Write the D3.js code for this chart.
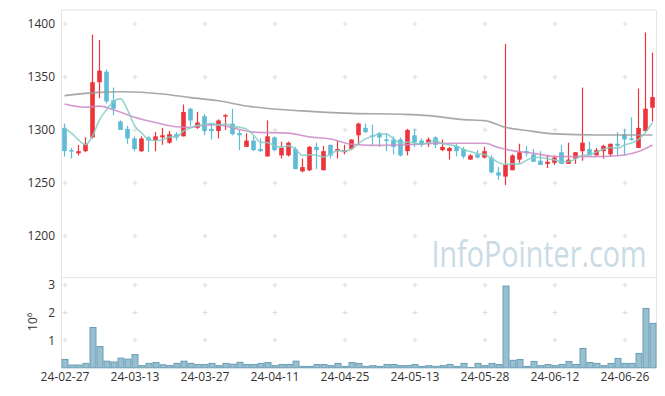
<!DOCTYPE html>
<html>
<head>
<meta charset="utf-8">
<script src="https://cdn.jsdelivr.net/npm/d3@7"></script>
<style>
body { margin: 0; background: #fff; }
svg text { font-family: "Open Sans", sans-serif; fill: #333; }
</style>
</head>
<body>
<div id="chart" style="width:665px;height:396px"></div>
<script>
const dates = [
    "24-02-27","24-02-28","24-02-29","24-03-04","24-03-05","24-03-06","24-03-07","24-03-08","24-03-11","24-03-12",
    "24-03-13","24-03-14","24-03-15","24-03-18","24-03-19","24-03-20","24-03-21","24-03-22","24-03-25","24-03-26",
    "24-03-27","24-03-28","24-03-29","24-04-01","24-04-02","24-04-03","24-04-04","24-04-05","24-04-08","24-04-09",
    "24-04-11","24-04-12","24-04-15","24-04-16","24-04-17","24-04-18","24-04-19","24-04-22","24-04-23","24-04-24",
    "24-04-25","24-04-26","24-04-29","24-04-30","24-05-02","24-05-03","24-05-07","24-05-08","24-05-09","24-05-10",
    "24-05-13","24-05-14","24-05-16","24-05-17","24-05-20","24-05-21","24-05-22","24-05-23","24-05-24","24-05-27",
    "24-05-28","24-05-29","24-05-30","24-05-31","24-06-03","24-06-04","24-06-05","24-06-07","24-06-10","24-06-11",
    "24-06-12","24-06-13","24-06-14","24-06-17","24-06-18","24-06-19","24-06-20","24-06-21","24-06-24","24-06-25",
    "24-06-26","24-06-27","24-06-28","24-07-01","24-07-02"
];
const opens = [
    1302,1281,1278,1280,1293,1345,1355,1328,1308,1301,
    1292,1280,1293,1290,1293,1288,1296,1294,1320,1302,
    1313,1301,1299,1313,1306,1297,1284,1290,1282,1275,
    1293,1276,1276,1282,1261,1262,1284,1262,1286,1280,
    1279,1282,1295,1302,1295,1297,1291,1291,1291,1280,
    1295,1290,1288,1293,1281,1280,1285,1282,1272,1277,
    1274,1274,1260,1256,1262,1272,1280,1277,1271,1268,
    1269,1279,1268,1273,1280,1282,1276,1280,1277,1287,
    1296,1292,1283,1299,1321
];
const highs = [
    1306,1283,1286,1293,1390,1385,1357,1340,1309,1304,
    1294,1294,1294,1298,1302,1299,1298,1324,1321,1317,
    1315,1306,1310,1315,1320,1300,1297,1294,1292,1309,
    1294,1289,1289,1284,1273,1285,1288,1285,1286,1290,
    1286,1291,1307,1306,1305,1298,1297,1294,1293,1301,
    1301,1292,1293,1294,1291,1284,1287,1284,1277,1281,
    1284,1276,1265,1381,1277,1287,1285,1282,1280,1276,
    1276,1286,1288,1279,1340,1289,1283,1286,1287,1298,
    1301,1312,1339,1392,1373
];
const lows = [
    1275,1273,1276,1279,1292,1330,1325,1314,1300,1287,
    1280,1279,1279,1280,1286,1287,1290,1294,1304,1301,
    1295,1291,1292,1300,1295,1281,1284,1280,1279,1275,
    1280,1273,1275,1263,1260,1261,1263,1262,1273,1273,
    1277,1281,1286,1297,1286,1284,1280,1277,1275,1276,
    1284,1284,1284,1283,1280,1272,1275,1273,1272,1273,
    1273,1259,1253,1248,1262,1269,1275,1270,1267,1264,
    1267,1268,1268,1268,1271,1276,1276,1273,1275,1275,
    1276,1290,1283,1299,1308
];
const closes = [
    1280,1280,1280,1287,1345,1356,1327,1320,1300,1292,
    1282,1292,1290,1294,1295,1296,1293,1317,1309,1307,
    1299,1299,1309,1314,1296,1295,1290,1281,1280,1294,
    1281,1283,1288,1263,1265,1284,1281,1280,1276,1282,
    1281,1291,1306,1298,1294,1293,1290,1284,1276,1300,
    1288,1286,1291,1286,1284,1283,1280,1275,1276,1274,
    1280,1260,1257,1267,1276,1279,1278,1270,1267,1270,
    1274,1268,1272,1279,1288,1276,1281,1285,1287,1285,
    1291,1291,1302,1320,1331
];
// volume in millions of shares
const volumes = [
    0.30,0.10,0.10,0.16,1.46,0.77,0.24,0.21,0.35,0.31,
    0.48,0.08,0.16,0.19,0.11,0.08,0.16,0.24,0.16,0.12,
    0.12,0.16,0.08,0.16,0.13,0.20,0.12,0.12,0.16,0.19,
    0.08,0.12,0.12,0.24,0.05,0.05,0.12,0.12,0.08,0.16,
    0.05,0.19,0.16,0.05,0.08,0.05,0.12,0.12,0.08,0.08,
    0.12,0.05,0.08,0.05,0.08,0.12,0.05,0.16,0.01,0.16,
    0.08,0.16,0.12,2.96,0.27,0.30,0.05,0.23,0.08,0.12,
    0.08,0.12,0.23,0.12,0.70,0.19,0.16,0.08,0.16,0.34,
    0.16,0.16,0.52,2.15,1.61
];
// closes of the four sessions before the first candle (for the 5-day average)
const priorCloses = [1303, 1312, 1310, 1303];
// 20-day and 60-day averages: [candle index, value]
const ma20Points = [
    [0,1324.5],[3,1321.5],[5,1322.5],[7,1319],[10,1312],[13,1307],[16,1303],[18,1302.5],
    [20,1304.5],[22,1305],[24,1302],[27,1298],[32,1297],[35,1293.5],[38,1291.5],[41,1286.5],
    [44,1285.5],[48,1285.8],[54,1287.4],[60,1287.4],[62,1283.5],[64,1280.5],[67,1278],
    [70,1275],[76,1274.8],[80,1276.4],[82,1279.6],[84,1285.8]
];
const ma60Points = [
    [0,1332.4],[5,1335.5],[8,1336],[14,1334],[18,1330.5],[22,1327.5],[26,1322.6],[34,1318],
    [41,1315.7],[48,1314.8],[52,1313.5],[57,1309.8],[60,1308.8],[63,1302.5],[66,1299.5],
    [70,1296.3],[76,1295.3],[84,1295.3]
];
const priceTicks = [1200, 1250, 1300, 1350, 1400];
const volumeTicks = [1, 2, 3];
const dateTickStep = 10;

const n = closes.length;
const plotLeft = 61.5, plotRight = 656.5, plotTop = 10, plotSplit = 277.7, plotBottom = 367.8;

const svg = d3.select("#chart")
    .append("svg")
    .attr("width", 665)
    .attr("height", 396);

const x = d3.scaleBand()
    .domain(d3.range(n))
    .range([plotLeft, plotRight])
    .padding(0);
const cx = i => x(i) + x.bandwidth() / 2;

const y = d3.scaleLinear()
    .domain([1160.6, 1413.2])
    .range([plotSplit, plotTop]);

const yv = d3.scaleLinear()
    .domain([0, 3.264])
    .range([plotBottom, plotSplit]);

const dateTicks = d3.range(0, n, dateTickStep);

// frame
const frame = svg.append("g").attr("stroke", "#e4e4e4").attr("stroke-width", 1);
frame.append("line").attr("x1", plotLeft).attr("x2", plotLeft).attr("y1", plotTop).attr("y2", plotBottom);
frame.append("line").attr("x1", plotRight).attr("x2", plotRight).attr("y1", plotTop).attr("y2", plotBottom);
frame.append("line").attr("x1", plotLeft).attr("x2", plotRight).attr("y1", plotTop).attr("y2", plotTop);
frame.append("line").attr("x1", plotLeft).attr("x2", plotRight).attr("y1", plotSplit).attr("y2", plotSplit);

// grid crosses
const crosses = [];
dateTicks.forEach(i => {
    priceTicks.forEach(p => crosses.push([cx(i), y(p)]));
    volumeTicks.forEach(v => crosses.push([cx(i), yv(v)]));
});
const grid = svg.append("g").attr("stroke", "#dcdcdc").attr("stroke-width", 1);
grid.selectAll(".h").data(crosses).enter().append("line")
    .attr("x1", d => d[0] - 2.5).attr("x2", d => d[0] + 2.5)
    .attr("y1", d => d[1]).attr("y2", d => d[1]);
grid.selectAll(".v").data(crosses).enter().append("line")
    .attr("x1", d => d[0]).attr("x2", d => d[0])
    .attr("y1", d => d[1] - 2.5).attr("y2", d => d[1] + 2.5);

// watermark
svg.append("text")
    .attr("transform", "translate(431.5,266.5) scale(1,1.28)")
    .attr("font-size", 28.5)
    .attr("textLength", 215)
    .attr("lengthAdjust", "spacingAndGlyphs")
    .style("fill", "#c9dbe5")
    .text("InfoPointer.com");

// axes
const yAxis = svg.append("g")
    .attr("transform", `translate(${plotLeft},0)`)
    .call(d3.axisLeft(y).tickValues(priceTicks).tickFormat(d3.format("d")).tickSize(0).tickPadding(6.5));
const vAxis = svg.append("g")
    .attr("transform", `translate(${plotLeft},0)`)
    .call(d3.axisLeft(yv).tickValues(volumeTicks).tickFormat(d3.format("d")).tickSize(0).tickPadding(6.5));
const xAxis = svg.append("g")
    .attr("transform", `translate(0,${plotBottom})`)
    .call(d3.axisBottom(x).tickValues(dateTicks).tickFormat(i => dates[i]).tickSize(0).tickPadding(5));
[yAxis, vAxis, xAxis].forEach(a => {
    a.attr("font-family", null).attr("font-size", 12);
    a.select(".domain").remove();
});

const unit = svg.append("text")
    .attr("transform", `translate(36.5,${(plotSplit + plotBottom) / 2 - 1}) rotate(-90)`)
    .attr("text-anchor", "middle")
    .attr("font-size", 12);
unit.append("tspan").text("10");
unit.append("tspan").attr("font-size", 8).attr("dy", -5).text("6");

// volume bars
svg.append("g").selectAll("rect")
    .data(volumes)
    .enter().append("rect")
    .attr("x", (d, i) => x(i) + 0.5)
    .attr("width", x.bandwidth() - 1)
    .attr("y", d => yv(d))
    .attr("height", d => plotBottom - yv(d))
    .attr("fill", "#97bfcf")
    .attr("stroke", "#6b9db5")
    .attr("stroke-width", 1);

// candles
const up = "#ec343a", down = "#5fbcd7";
const candles = svg.append("g").selectAll("g")
    .data(d3.range(n))
    .enter().append("g")
    .attr("fill", i => closes[i] >= opens[i] ? up : down)
    .attr("stroke", i => closes[i] >= opens[i] ? up : down);
candles.append("line")
    .attr("x1", i => cx(i) - 0.5)
    .attr("x2", i => cx(i) - 0.5)
    .attr("y1", i => y(highs[i]))
    .attr("y2", i => y(lows[i]))
    .attr("stroke-width", 1.2);
candles.append("rect")
    .attr("x", i => cx(i) - 2.8)
    .attr("width", 4.6)
    .attr("y", i => y(Math.max(opens[i], closes[i])))
    .attr("height", i => Math.max(1.5, Math.abs(y(opens[i]) - y(closes[i]))))
    .attr("stroke", "none");

// moving averages
const allCloses = priorCloses.concat(closes);
const ma5 = d3.range(n).map(i => [i, d3.mean(allCloses.slice(i, i + 5))]);

const line = d3.line()
    .x(d => cx(d[0]) - 0.5)
    .y(d => y(d[1]))
    .curve(d3.curveMonotoneX);

[[ma60Points, "#999999"], [ma20Points, "#cc88c6"], [ma5, "#86cdc4"]].forEach(([pts, color]) => {
    svg.append("path")
        .datum(pts)
        .attr("fill", "none")
        .attr("stroke", color)
        .attr("stroke-width", 1.6)
        .attr("stroke-opacity", 0.85)
        .attr("d", line);
});
</script>
</body>
</html>
